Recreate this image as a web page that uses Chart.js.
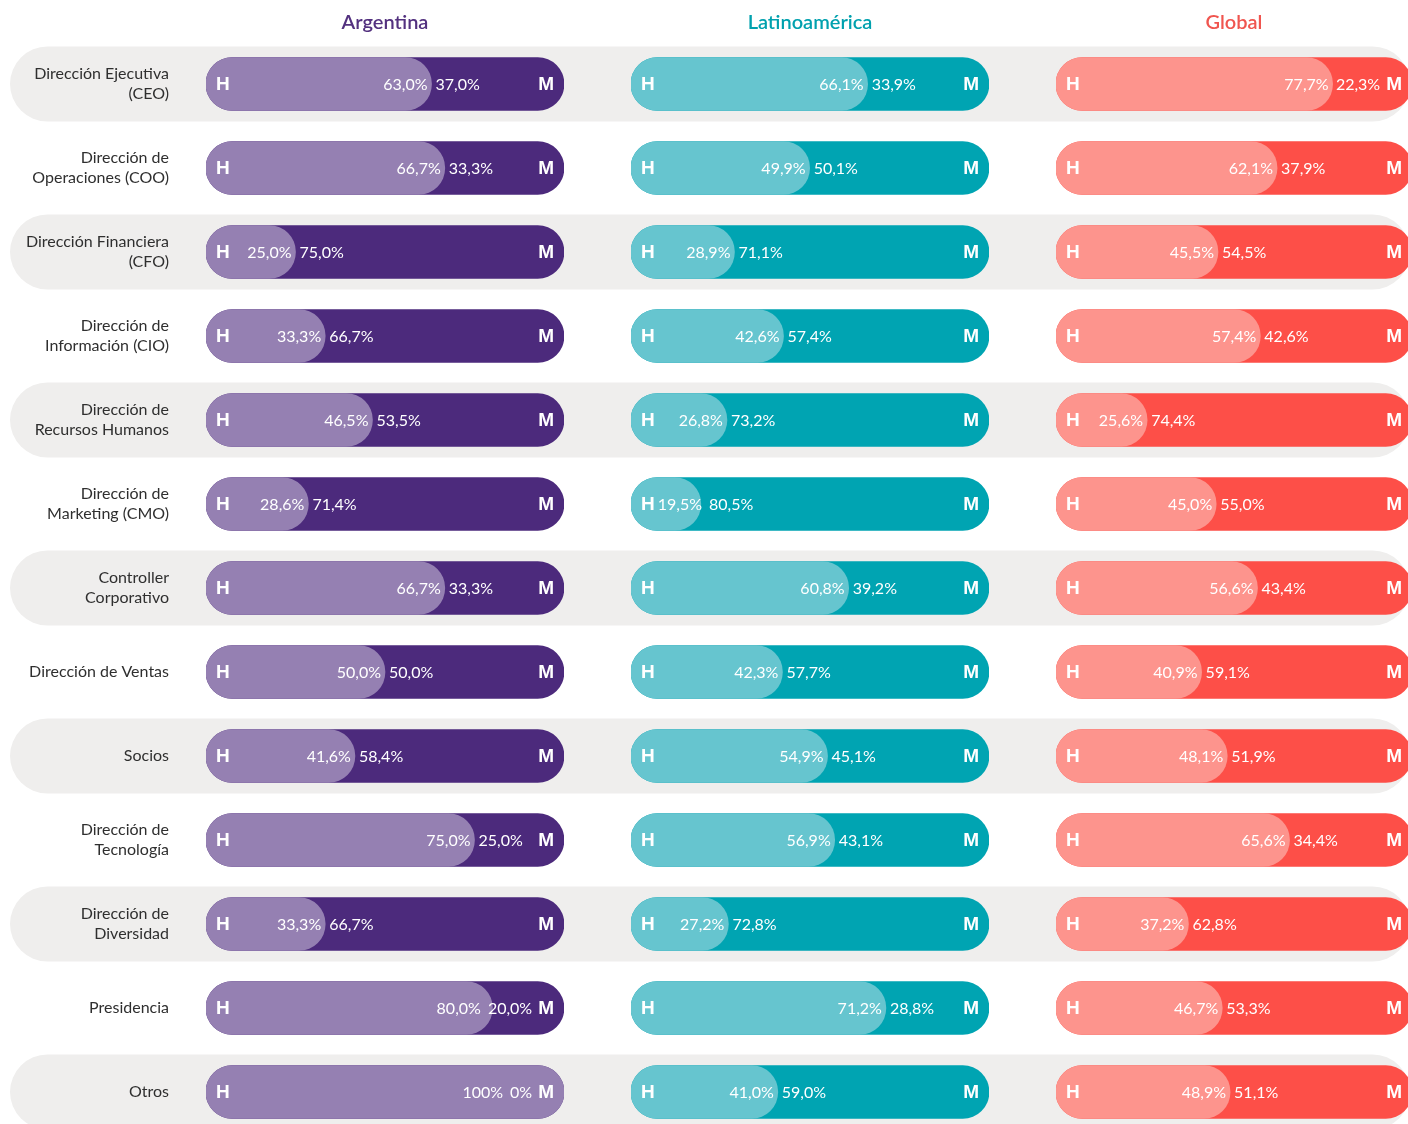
<!DOCTYPE html>
<html lang="es">
<head>
<meta charset="utf-8">
<title>Dirección por género</title>
<script src="https://cdn.jsdelivr.net/npm/chart.js@4.4.1/dist/chart.umd.min.js"></script>
<style>
  html, body { margin: 0; padding: 0; background: #fff; }
  #wrap { position: relative; width: 1408px; height: 1124px; overflow: hidden; }
  #wrap canvas { position: absolute; left: 0; top: 0; }
</style>
</head>
<body>
<div id="wrap">
  <canvas id="cArg" width="1420" height="1160"></canvas>
  <canvas id="cLat" width="1420" height="1160"></canvas>
  <canvas id="cGlo" width="1420" height="1160"></canvas>
</div>
<script>
// puestos (eje Y)
const puestos = [
  ['Dirección Ejecutiva', '(CEO)'],
  ['Dirección de', 'Operaciones (COO)'],
  ['Dirección Financiera', '(CFO)'],
  ['Dirección de', 'Información (CIO)'],
  ['Dirección de', 'Recursos Humanos'],
  ['Dirección de', 'Marketing (CMO)'],
  ['Controller', 'Corporativo'],
  'Dirección de Ventas',
  'Socios',
  ['Dirección de', 'Tecnología'],
  ['Dirección de', 'Diversidad'],
  'Presidencia',
  'Otros'
];

// % hombres / % mujeres por región
const argH = [63.0, 66.7, 25.0, 33.3, 46.5, 28.6, 66.7, 50.0, 41.6, 75.0, 33.3, 80.0, 100];
const argM = [37.0, 33.3, 75.0, 66.7, 53.5, 71.4, 33.3, 50.0, 58.4, 25.0, 66.7, 20.0, 0];
const latH = [66.1, 49.9, 28.9, 42.6, 26.8, 19.5, 60.8, 42.3, 54.9, 56.9, 27.2, 71.2, 41.0];
const latM = [33.9, 50.1, 71.1, 57.4, 73.2, 80.5, 39.2, 57.7, 45.1, 43.1, 72.8, 28.8, 59.0];
const gloH = [77.7, 62.1, 45.5, 57.4, 25.6, 45.0, 56.6, 40.9, 48.1, 65.6, 37.2, 46.7, 48.9];
const gloM = [22.3, 37.9, 54.5, 42.6, 74.4, 55.0, 43.4, 59.1, 51.9, 34.4, 62.8, 53.3, 51.1];

const FONT = 'Lato, "Noto Sans", sans-serif';
const CANVAS_W = 1420, CANVAS_H = 1160;

function fmt(v) {
  if (v === 0 || v === 100) return v + '%';
  return v.toFixed(1).replace('.', ',') + '%';
}

// franjas grises detrás de filas alternas
const stripes = {
  id: 'stripes',
  beforeDraw(chart) {
    const y = chart.scales.y, ctx = chart.ctx;
    ctx.save();
    ctx.fillStyle = '#efeeed';
    for (let i = 0; i < puestos.length; i += 2) {
      const cy = y.getPixelForValue(i);
      ctx.beginPath();
      ctx.roundRect(10, cy - 37.5, 1400, 75, 37.5);
      ctx.fill();
    }
    ctx.restore();
  }
};

// H / M y porcentajes sobre cada barra
const pillText = {
  id: 'pillText',
  afterDatasetsDraw(chart, args, opts) {
    const {ctx, chartArea} = chart;
    const x = chart.scales.x, y = chart.scales.y;
    const L = chartArea.left, R = chartArea.right;
    ctx.save();
    ctx.fillStyle = '#fff';
    ctx.textBaseline = 'middle';
    opts.h.forEach((h, i) => {
      const cy = y.getPixelForValue(i);
      ctx.font = 'bold 19px "Liberation Sans", Arial, sans-serif';
      ctx.textAlign = 'left';
      ctx.fillText('H', L + 10, cy + 1);
      const hRight = L + 10 + ctx.measureText('H').width;
      ctx.textAlign = 'right';
      ctx.fillText('M', R - 10, cy + 1);
      const mLeft = R - 10 - ctx.measureText('M').width;

      ctx.font = '16px ' + FONT;
      const tH = fmt(h), tM = fmt(opts.m[i]);
      const wH = ctx.measureText(tH).width;
      const wM = ctx.measureText(tM).width;
      const split = x.getPixelForValue(h);
      let mx = Math.min(split + 4, mLeft - 6 - wM);
      const hx = Math.max(Math.min(split - 4, mx - 7), hRight + 3 + wH);
      mx = Math.max(mx, hx + 7);
      ctx.textAlign = 'left';
      ctx.fillText(tM, mx, cy + 1);
      ctx.textAlign = 'right';
      ctx.fillText(tH, hx, cy + 1);
    });
    ctx.restore();
  }
};

function makeChart(id, title, titleColor, h, m, light, dark, left, right, withLabels) {
  const yScale = withLabels ? {
    display: true,
    grid: { display: false, drawTicks: true, tickLength: 37 },
    border: { display: false },
    ticks: { color: '#2f2f2f', padding: 0, font: { family: FONT, size: 16, lineHeight: 1.25 } },
    afterFit(scale) { scale.width = left; }
  } : { display: false };

  new Chart(document.getElementById(id), {
    type: 'bar',
    data: {
      labels: puestos,
      datasets: [
        { label: 'H', data: h, backgroundColor: light },
        { label: 'M', data: h.map((v, i) => [0, v + m[i]]), backgroundColor: dark }
      ]
    },
    options: {
      indexAxis: 'y',
      responsive: false,
      animation: false,
      layout: { padding: { left: withLabels ? 0 : left, right: CANVAS_W - right, top: 0, bottom: CANVAS_H - 1134 } },
      datasets: {
        bar: { grouped: false, barThickness: 53, borderRadius: 30, borderSkipped: false }
      },
      scales: {
        x: { min: 0, max: 100, display: false },
        y: yScale
      },
      plugins: {
        legend: { display: false },
        tooltip: { enabled: false },
        title: {
          display: true, text: title, color: titleColor, fullSize: false,
          font: { family: FONT, size: 20, weight: '600', lineHeight: 1.2 },
          padding: { top: 11, bottom: 7 }
        },
        pillText: { h, m }
      }
    },
    plugins: withLabels ? [stripes, pillText] : [pillText]
  });
}

makeChart('cArg', 'Argentina', '#53317f', argH, argM, '#9580b2', '#4c2a7c', 206, 564, true);
makeChart('cLat', 'Latinoamérica', '#00a1ae', latH, latM, '#66c5cf', '#00a4b2', 631, 989, false);
makeChart('cGlo', 'Global', '#f0554f', gloH, gloM, '#fd948d', '#fd4f48', 1056, 1412, false);
</script>
</body>
</html>
